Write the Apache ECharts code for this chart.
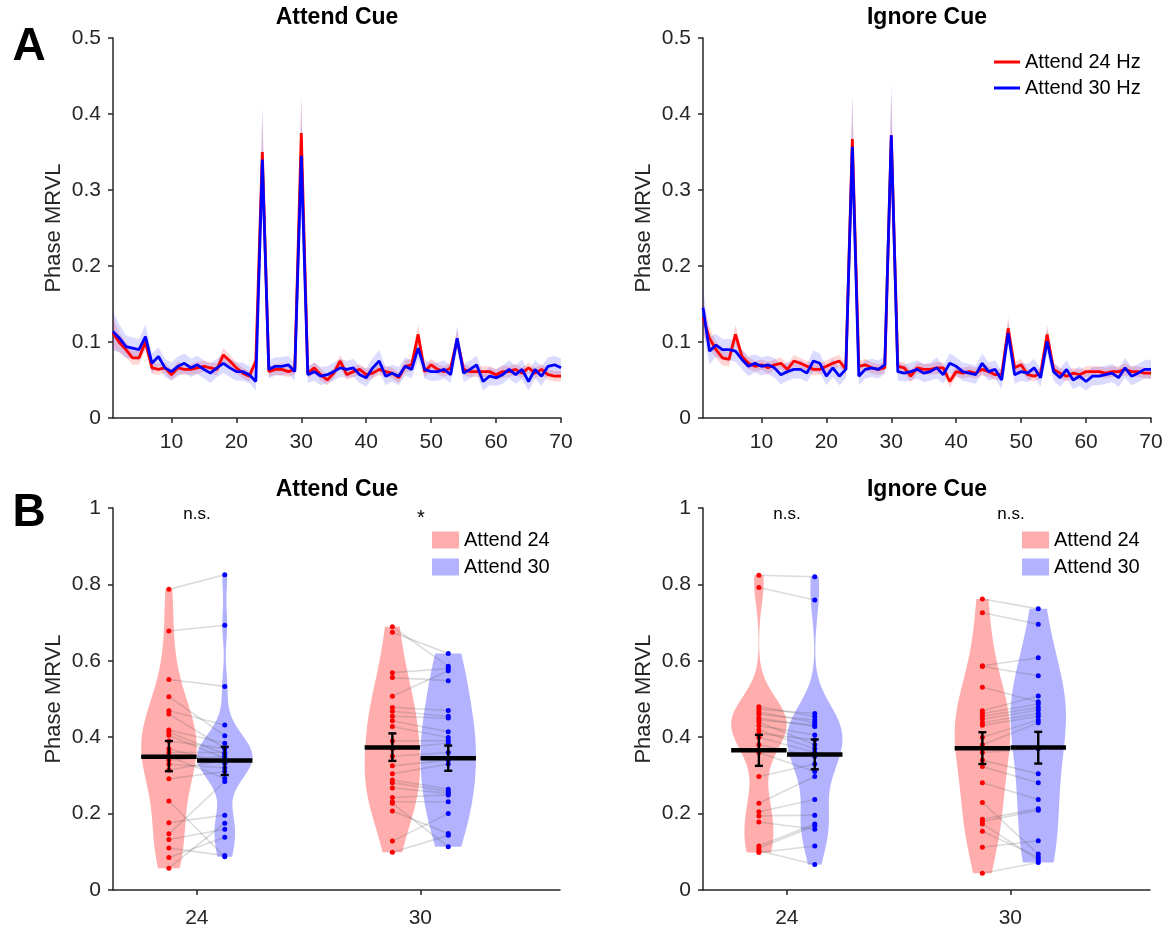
<!DOCTYPE html>
<html><head><meta charset="utf-8">
<script src="https://cdn.jsdelivr.net/npm/echarts@6/dist/echarts.min.js"></script>
<style>html,body{margin:0;padding:0;background:#fff}#c{width:1175px;height:930px}</style>
</head><body><div id="c"></div><script>
// ---------- Panel A data ----------
const freqs = [1,2,3,4,5,6,7,8,9,10,11,12,13,14,15,16,17,18,19,20,21,22,23,24,25,26,27,28,29,30,31,32,33,34,35,36,37,38,39,40,41,42,43,44,45,46,47,48,49,50,51,52,53,54,55,56,57,58,59,60,61,62,63,64,65,66,67,68,69,70];
const freqTicks = [10,20,30,40,50,60,70];
const attRed = [0.112,0.099,0.090,0.079,0.079,0.100,0.066,0.064,0.066,0.057,
0.066,0.064,0.064,0.066,0.068,0.066,0.064,0.083,0.075,0.066,
0.059,0.055,0.075,0.350,0.061,0.064,0.064,0.061,0.064,0.375,
0.059,0.066,0.057,0.050,0.059,0.075,0.057,0.061,0.064,0.057,
0.059,0.064,0.061,0.059,0.053,0.068,0.070,0.110,0.061,0.070,
0.064,0.061,0.066,0.103,0.064,0.061,0.061,0.061,0.061,0.057,
0.061,0.061,0.064,0.059,0.066,0.059,0.064,0.057,0.055,0.055];
const attBlue = [0.114,0.105,0.094,0.092,0.090,0.107,0.072,0.081,0.066,0.061,
0.068,0.072,0.066,0.070,0.064,0.059,0.066,0.072,0.066,0.061,
0.061,0.057,0.048,0.340,0.064,0.068,0.068,0.070,0.061,0.345,
0.057,0.061,0.055,0.057,0.061,0.066,0.064,0.066,0.057,0.053,
0.066,0.075,0.055,0.059,0.055,0.068,0.064,0.092,0.064,0.061,
0.061,0.064,0.057,0.105,0.059,0.064,0.070,0.048,0.055,0.053,
0.057,0.064,0.057,0.064,0.048,0.064,0.055,0.068,0.070,0.066];
const ignRed = [0.132,0.105,0.090,0.079,0.077,0.110,0.081,0.072,0.068,0.070,
0.066,0.070,0.072,0.064,0.075,0.072,0.068,0.064,0.064,0.068,
0.072,0.075,0.064,0.367,0.068,0.070,0.066,0.064,0.066,0.372,
0.068,0.066,0.055,0.066,0.064,0.064,0.066,0.066,0.048,0.061,
0.059,0.061,0.059,0.064,0.061,0.057,0.057,0.118,0.066,0.070,
0.057,0.055,0.059,0.110,0.064,0.059,0.055,0.059,0.057,0.061,
0.061,0.061,0.059,0.061,0.061,0.064,0.061,0.061,0.059,0.059];
const ignBlue = [0.145,0.088,0.096,0.090,0.090,0.088,0.077,0.068,0.072,0.068,
0.070,0.066,0.057,0.061,0.064,0.064,0.059,0.075,0.072,0.055,
0.066,0.055,0.064,0.357,0.055,0.064,0.066,0.064,0.070,0.372,
0.061,0.059,0.061,0.064,0.059,0.061,0.066,0.057,0.072,0.068,
0.061,0.059,0.057,0.072,0.061,0.064,0.050,0.112,0.057,0.061,
0.059,0.066,0.053,0.101,0.061,0.053,0.064,0.050,0.055,0.048,
0.055,0.055,0.057,0.059,0.053,0.066,0.055,0.059,0.064,0.064];
const attRedSem = [0.020,0.013,0.010,0.009,0.009,0.010,0.008,0.007,0.007,0.007,
0.008,0.007,0.007,0.008,0.007,0.007,0.008,0.009,0.008,0.007,
0.007,0.007,0.008,0.050,0.007,0.007,0.008,0.007,0.007,0.050,
0.007,0.007,0.008,0.007,0.007,0.008,0.007,0.007,0.007,0.008,
0.007,0.007,0.007,0.007,0.007,0.008,0.008,0.013,0.007,0.008,
0.007,0.007,0.007,0.012,0.007,0.007,0.007,0.007,0.007,0.007,
0.008,0.007,0.007,0.007,0.007,0.007,0.007,0.007,0.007,0.007];
const attBlueSem = [0.026,0.018,0.015,0.014,0.014,0.016,0.013,0.012,0.012,0.012,
0.013,0.013,0.012,0.012,0.012,0.013,0.012,0.013,0.012,0.012,
0.012,0.011,0.012,0.070,0.012,0.012,0.012,0.012,0.012,0.075,
0.011,0.012,0.012,0.011,0.012,0.012,0.011,0.012,0.011,0.012,
0.013,0.014,0.012,0.011,0.012,0.012,0.012,0.015,0.012,0.012,
0.012,0.012,0.011,0.016,0.012,0.012,0.012,0.012,0.012,0.011,
0.012,0.012,0.012,0.013,0.012,0.012,0.013,0.012,0.012,0.012];
const ignRedSem = [0.022,0.014,0.011,0.010,0.009,0.012,0.008,0.008,0.007,0.007,
0.008,0.007,0.008,0.007,0.008,0.007,0.007,0.008,0.007,0.008,
0.008,0.008,0.007,0.055,0.007,0.008,0.007,0.007,0.007,0.055,
0.007,0.007,0.008,0.007,0.007,0.007,0.008,0.007,0.008,0.007,
0.007,0.007,0.007,0.008,0.007,0.007,0.007,0.015,0.008,0.008,
0.007,0.007,0.007,0.013,0.007,0.007,0.007,0.007,0.007,0.007,
0.007,0.007,0.007,0.007,0.007,0.008,0.007,0.007,0.007,0.007];
const ignBlueSem = [0.028,0.018,0.015,0.014,0.014,0.014,0.013,0.013,0.012,0.012,
0.012,0.013,0.013,0.012,0.012,0.012,0.012,0.014,0.013,0.012,
0.012,0.012,0.012,0.070,0.012,0.012,0.012,0.012,0.012,0.070,
0.012,0.011,0.012,0.012,0.012,0.012,0.014,0.012,0.013,0.012,
0.012,0.012,0.012,0.013,0.012,0.012,0.012,0.016,0.012,0.012,
0.012,0.012,0.012,0.016,0.012,0.012,0.012,0.012,0.013,0.012,
0.012,0.012,0.012,0.012,0.012,0.013,0.012,0.012,0.012,0.013];

// ---------- Panel B data (per-subject, paired by index) ----------
const xCats = ['24','30'];
const attRed24 = [0.787,0.678,0.551,0.506,0.469,0.461,0.419,0.413,0.405,0.39,0.37,0.36,0.35,0.34,0.329,0.314,0.291,0.233,0.176,0.147,0.132,0.110,0.085,0.057];
const attBlue24 = [0.825,0.693,0.533,0.404,0.432,0.371,0.384,0.356,0.345,0.37,0.332,0.36,0.292,0.35,0.32,0.34,0.31,0.087,0.196,0.284,0.159,0.09,0.138,0.175];
const attRed30 = [0.689,0.675,0.569,0.556,0.507,0.478,0.468,0.455,0.443,0.428,0.39,0.37,0.35,0.325,0.304,0.288,0.281,0.267,0.242,0.231,0.227,0.207,0.128,0.099];
const attBlue30 = [0.586,0.619,0.580,0.548,0.574,0.470,0.455,0.450,0.414,0.399,0.391,0.384,0.36,0.34,0.33,0.264,0.258,0.253,0.249,0.231,0.113,0.148,0.200,0.143];
const ignRed24 = [0.824,0.792,0.480,0.473,0.466,0.46,0.45,0.445,0.44,0.43,0.419,0.41,0.40,0.38,0.36,0.297,0.227,0.205,0.194,0.178,0.115,0.109,0.103,0.098];
const ignBlue24 = [0.820,0.759,0.454,0.462,0.438,0.445,0.428,0.432,0.38,0.406,0.37,0.393,0.36,0.35,0.310,0.33,0.297,0.237,0.196,0.159,0.173,0.168,0.067,0.115];
const ignRed30 = [0.762,0.726,0.587,0.585,0.531,0.469,0.462,0.455,0.447,0.438,0.431,0.40,0.38,0.36,0.34,0.323,0.281,0.229,0.185,0.179,0.173,0.154,0.112,0.044];
const ignBlue30 = [0.736,0.696,0.608,0.561,0.493,0.508,0.487,0.478,0.471,0.462,0.455,0.445,0.438,0.37,0.304,0.281,0.237,0.094,0.213,0.209,0.079,0.086,0.129,0.072];
// group means and SEM bounds: [mean, low, high]
const attStats = {r24:[0.349,0.311,0.390], b24:[0.339,0.301,0.375], r30:[0.373,0.338,0.410], b30:[0.345,0.312,0.378]};
const ignStats = {r24:[0.366,0.325,0.406], b24:[0.355,0.316,0.394], r30:[0.371,0.330,0.413], b30:[0.373,0.331,0.414]};

// ---------- styling ----------
const FONT = '"Liberation Sans", Arial, Helvetica, sans-serif';
const AX = '#262626';
const RED = '#ff0000', BLUE = '#0000ff';
const RED_FILL = 'rgba(255,0,0,0.32)', BLUE_FILL = 'rgba(0,0,255,0.30)';
const OFF = 0.125, HALF = 0.124;

function bandSeries(mean, sem, fill, ax) {
  return {
    type: 'custom', xAxisIndex: ax, yAxisIndex: ax, silent: true, z: 1, clip: true,
    data: freqs.map((f, i) => [f, mean[i] - sem[i], mean[i] + sem[i]]),
    encode: {x: 0, y: [1, 2]},
    renderItem: (params, api) => {
      if (params.dataIndex !== 0) return null;
      const up = [], lo = [];
      freqs.forEach((f, i) => { up.push(api.coord([f, mean[i] + sem[i]])); lo.push(api.coord([f, mean[i] - sem[i]])); });
      return {type: 'polygon', shape: {points: up.concat(lo.reverse())}, style: {fill: fill}};
    }
  };
}
function lineSeries(name, vals, color, ax) {
  return {
    type: 'line', name: name, xAxisIndex: ax, yAxisIndex: ax, z: 3,
    data: freqs.map((f, i) => [f, vals[i]]), symbol: 'none', silent: true,
    lineStyle: {color: color, width: 2.8}, itemStyle: {color: color}
  };
}
function median(a) { const s = [...a].sort((x, y) => x - y); const n = s.length; return n % 2 ? s[(n - 1) / 2] : (s[n / 2 - 1] + s[n / 2]) / 2; }
function kdeProfile(vals, nPts) {
  const n = vals.length;
  const s = [...vals].sort((a, b) => a - b);
  const med = median(s);
  const sig = median(s.map(v => Math.abs(v - med))) / 0.6745;
  const bw = sig * Math.pow(4 / (3 * n), 0.2);
  const lo = s[0], hi = s[n - 1];
  const prof = [];
  let dmax = 0;
  for (let i = 0; i <= nPts; i++) {
    const y = lo + (hi - lo) * i / nPts;
    let d = 0;
    for (const v of vals) d += Math.exp(-0.5 * Math.pow((y - v) / bw, 2));
    prof.push([y, d]); if (d > dmax) dmax = d;
  }
  return prof.map(([y, d]) => [y, d / dmax * HALF]);
}
function violinSeries(name, vals, pos, fill, ax) {
  const prof = kdeProfile(vals, 120);
  return {
    type: 'custom', name: name, xAxisIndex: ax, yAxisIndex: ax, silent: true, z: 1,
    itemStyle: {color: fill},
    data: [[pos, prof[0][0], prof[prof.length - 1][0]]], encode: {x: 0, y: [1, 2]},
    renderItem: (params, api) => {
      const l = [], r = [];
      prof.forEach(([y, w]) => { l.push(api.coord([pos - w, y])); r.push(api.coord([pos + w, y])); });
      return {type: 'polygon', shape: {points: l.concat(r.reverse())}, style: {fill: fill}};
    }
  };
}
function pairSeries(red, blue, pos, ax) {
  return {
    type: 'custom', xAxisIndex: ax, yAxisIndex: ax, silent: true, z: 2,
    data: red.map((v, i) => [pos - OFF, v, pos + OFF, blue[i]]), encode: {x: [0, 2], y: [1, 3]},
    renderItem: (params, api) => {
      const a = api.coord([api.value(0), api.value(1)]), b = api.coord([api.value(2), api.value(3)]);
      return {type: 'line', shape: {x1: a[0], y1: a[1], x2: b[0], y2: b[1]}, style: {stroke: 'rgba(90,90,90,0.22)', lineWidth: 1.6}};
    }
  };
}
function dotSeries(vals, x, color, ax) {
  return {type: 'scatter', xAxisIndex: ax, yAxisIndex: ax, z: 3, silent: true, symbolSize: 5,
    data: vals.map(v => [x, v]), itemStyle: {color: color, opacity: 1}};
}
function meanSeries(rows, ax) {
  return {
    type: 'custom', xAxisIndex: ax, yAxisIndex: ax, silent: true, z: 4,
    data: rows, encode: {x: 0, y: [1, 2, 3]},
    renderItem: (params, api) => {
      const x = api.value(0), m = api.value(1), lo = api.value(2), hi = api.value(3);
      const a = api.coord([x - HALF, m]), b = api.coord([x + HALF, m]);
      const pl = api.coord([x, lo]), ph = api.coord([x, hi]);
      const st = {stroke: '#000', lineWidth: 2.4};
      return {type: 'group', children: [
        {type: 'line', shape: {x1: pl[0], y1: pl[1], x2: ph[0], y2: ph[1]}, style: st},
        {type: 'line', shape: {x1: pl[0] - 4, y1: pl[1], x2: pl[0] + 4, y2: pl[1]}, style: st},
        {type: 'line', shape: {x1: ph[0] - 4, y1: ph[1], x2: ph[0] + 4, y2: ph[1]}, style: st},
        {type: 'line', shape: {x1: a[0], y1: a[1], x2: b[0], y2: b[1]}, style: {stroke: '#000', lineWidth: 4.5}}
      ]};
    }
  };
}
const axisBase = {
  axisLine: {show: true, onZero: false, lineStyle: {color: AX, width: 1.5}},
  axisTick: {show: true, inside: false, length: 5, lineStyle: {color: AX, width: 1.5}},
  axisLabel: {color: AX, fontSize: 21, fontFamily: FONT, margin: 12},
  splitLine: {show: false}
};
function xTop(gi) {
  return Object.assign({}, axisBase, {type: 'value', gridIndex: gi, min: 1, max: 70,
    axisTick: Object.assign({}, axisBase.axisTick, {customValues: freqTicks}),
    axisLabel: Object.assign({}, axisBase.axisLabel, {customValues: freqTicks, margin: 14})});
}
function yAxisDef(gi, max, interval) {
  return Object.assign({}, axisBase, {type: 'value', gridIndex: gi, min: 0, max: max, interval: interval,
    name: 'Phase MRVL', nameLocation: 'middle', nameGap: 48,
    nameTextStyle: {color: AX, fontSize: 22, fontFamily: FONT},
    axisLabel: Object.assign({}, axisBase.axisLabel, {formatter: v => String(+v.toFixed(2))})});
}
function xBottom(gi) {
  return Object.assign({}, axisBase, {type: 'value', gridIndex: gi, min: 0.625, max: 2.625,
    axisTick: Object.assign({}, axisBase.axisTick, {customValues: [1, 2]}),
    axisLabel: Object.assign({}, axisBase.axisLabel, {customValues: [1, 2], margin: 18, formatter: v => xCats[Math.round(v) - 1]})});
}
function bottomPanel(ax, d) {
  const s = [];
  s.push(violinSeries('Attend 24', d.r24, 1 - OFF, RED_FILL, ax));
  s.push(violinSeries('Attend 30', d.b24, 1 + OFF, BLUE_FILL, ax));
  s.push(violinSeries('Attend 24', d.r30, 2 - OFF, RED_FILL, ax));
  s.push(violinSeries('Attend 30', d.b30, 2 + OFF, BLUE_FILL, ax));
  s.push(pairSeries(d.r24, d.b24, 1, ax));
  s.push(pairSeries(d.r30, d.b30, 2, ax));
  s.push(dotSeries(d.r24, 1 - OFF, RED, ax));
  s.push(dotSeries(d.b24, 1 + OFF, BLUE, ax));
  s.push(dotSeries(d.r30, 2 - OFF, RED, ax));
  s.push(dotSeries(d.b30, 2 + OFF, BLUE, ax));
  s.push(meanSeries([
    [1 - OFF].concat(d.st.r24), [1 + OFF].concat(d.st.b24),
    [2 - OFF].concat(d.st.r30), [2 + OFF].concat(d.st.b30)], ax));
  return s;
}
const series = [
  bandSeries(attRed, attRedSem, 'rgba(255,0,0,0.16)', 0),
  bandSeries(attBlue, attBlueSem, 'rgba(0,0,255,0.14)', 0),
  lineSeries('Attend 24 Hz', attRed, RED, 0),
  lineSeries('Attend 30 Hz', attBlue, BLUE, 0),
  bandSeries(ignRed, ignRedSem, 'rgba(255,0,0,0.16)', 1),
  bandSeries(ignBlue, ignBlueSem, 'rgba(0,0,255,0.14)', 1),
  lineSeries('Attend 24 Hz', ignRed, RED, 1),
  lineSeries('Attend 30 Hz', ignBlue, BLUE, 1)
].concat(
  bottomPanel(2, {r24: attRed24, b24: attBlue24, r30: attRed30, b30: attBlue30, st: attStats}),
  bottomPanel(3, {r24: ignRed24, b24: ignBlue24, r30: ignRed30, b30: ignBlue30, st: ignStats})
);
function txt(x, y, text, size, bold) {
  return {type: 'text', x: x, y: y, silent: true,
    style: {text: text, fill: '#000', font: (bold ? 'bold ' : '') + size + 'px ' + FONT, textAlign: 'center', textVerticalAlign: 'middle'}};
}
const legendText = {color: '#000', fontSize: 20, fontFamily: FONT};
const option = {
  backgroundColor: '#fff',
  animation: false,
  grid: [
    {left: 113, top: 38, width: 448, height: 380, outerBoundsMode: 'none'},
    {left: 703, top: 38, width: 448, height: 380, outerBoundsMode: 'none'},
    {left: 113, top: 508, width: 447, height: 382, outerBoundsMode: 'none'},
    {left: 703, top: 508, width: 447, height: 382, outerBoundsMode: 'none'}
  ],
  xAxis: [xTop(0), xTop(1), xBottom(2), xBottom(3)],
  yAxis: [yAxisDef(0, 0.5, 0.1), yAxisDef(1, 0.5, 0.1), yAxisDef(2, 1, 0.2), yAxisDef(3, 1, 0.2)],
  legend: [
    {left: 989, top: 47, orient: 'vertical', itemWidth: 26, itemHeight: 3, itemGap: 6, selectedMode: false,
     textStyle: legendText, data: [{name: 'Attend 24 Hz', icon: 'rect'}, {name: 'Attend 30 Hz', icon: 'rect'}]},
    {left: 427, top: 525, orient: 'vertical', itemWidth: 27, itemHeight: 17, itemGap: 7, selectedMode: false,
     textStyle: legendText, data: [{name: 'Attend 24', icon: 'rect'}, {name: 'Attend 30', icon: 'rect'}]},
    {left: 1017, top: 525, orient: 'vertical', itemWidth: 27, itemHeight: 17, itemGap: 7, selectedMode: false,
     textStyle: legendText, data: [{name: 'Attend 24', icon: 'rect'}, {name: 'Attend 30', icon: 'rect'}]}
  ],
  graphic: [
    txt(337, 18, 'Attend Cue', 23, true),
    txt(927, 18, 'Ignore Cue', 23, true),
    txt(337, 490, 'Attend Cue', 23, true),
    txt(927, 490, 'Ignore Cue', 23, true),
    txt(29, 47, 'A', 46, true),
    txt(29, 513, 'B', 46, true),
    txt(197, 514, 'n.s.', 17, false),
    txt(421, 518, '*', 20, false),
    txt(787, 514, 'n.s.', 17, false),
    txt(1011, 514, 'n.s.', 17, false)
  ],
  series: series
};
const chart = echarts.init(document.getElementById('c'), null, {renderer: 'canvas'});
chart.setOption(option);
</script></body></html>
